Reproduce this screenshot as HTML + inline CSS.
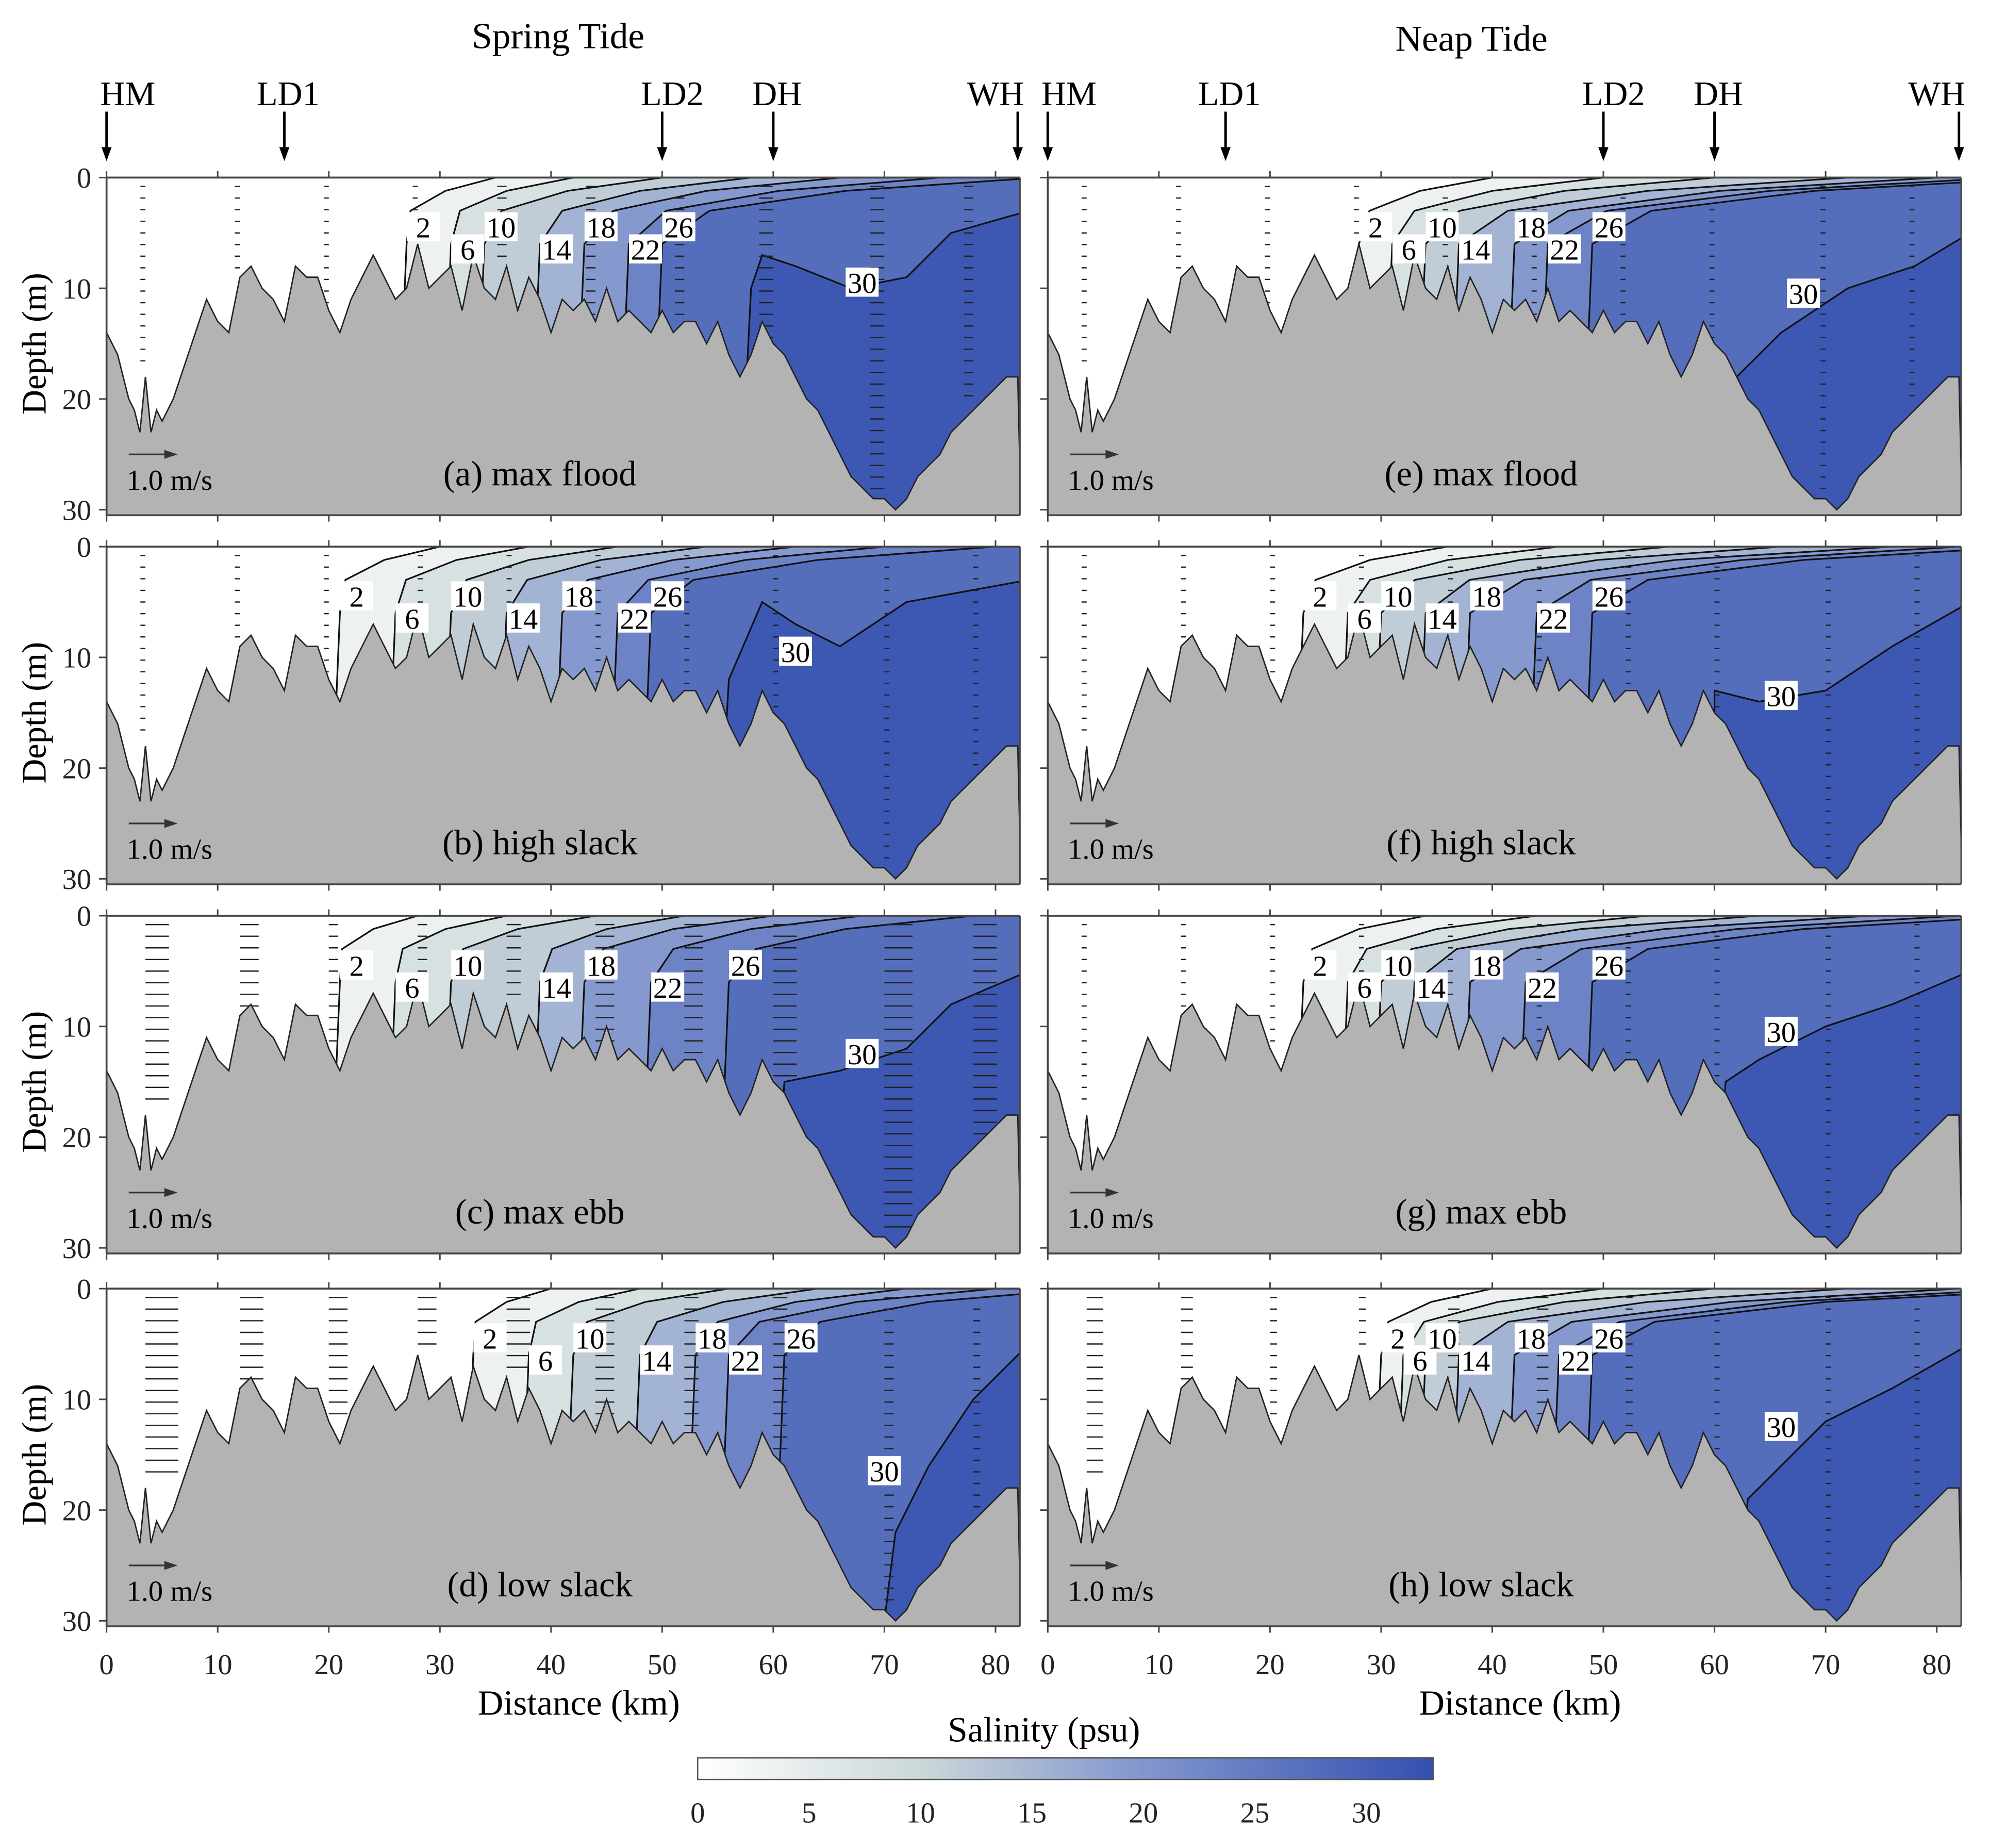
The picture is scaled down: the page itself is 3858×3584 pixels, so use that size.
<!DOCTYPE html>
<html><head><meta charset="utf-8">
<style>
html,body{margin:0;padding:0;background:#fff;}
svg, svg text{font-family:"Liberation Serif","DejaVu Serif",serif;}
</style></head>
<body>
<svg id="fig" width="3858" height="3579" viewBox="0 0 1568 1455" preserveAspectRatio="none" xmlns="http://www.w3.org/2000/svg" font-family="Liberation Serif, DejaVu Serif, serif">
<rect x="0" y="0" width="1568" height="1455" fill="#ffffff"/>
<text x="440" y="38" font-size="29" text-anchor="middle">Spring Tide</text>
<text x="1160" y="40" font-size="29" text-anchor="middle">Neap Tide</text>
<g id="panels"></g>
<g id="stations"></g>
<g id="colorbar"></g>
</svg>
<script>
// ---- data ----
const bathyKm=[0,1,2,2.5,3,3.5,4,4.5,5,6,7,8,9,10,11,12,13,14,15,16,17,18,19,20,21,22,23,24,25,26,27,28,29,30,31,32,33,34,35,36,37,38,39,40,41,42,43,44,45,46,47,48,49,50,51,52,53,54,55,56,57,58,59,60,61,62,63,64,65,66,67,68,69,70,71,72,73,74,75,76,77,78,79,80,81,82];
const bathyDepth=[14,16,20,21,23,18,23,21,22,20,17,14,11,13,14,9,8,10,11,13,8,9,9,12,14,11,9,7,9,11,10,6,10,9,8,12,7,10,11,8,12,9,11,14,11,12,11,13,10,13,12,13,14,12,14,13,13,15,13,16,18,16,13,15,16,18,20,21,23,25,27,28,29,29,30,29,27,26,25,23,22,21,20,19,18,18];
const salinityLevels=[2,6,10,14,18,22,26];
const panelLetters=['a','b','c','d','e','f','g','h'];
const panelTitles=['(a) max flood','(b) high slack','(c) max ebb','(d) low slack','(e) max flood','(f)  high slack','(g) max ebb','(h) low slack'];
const surfX=[
 [35,42,50,58,66,75,84],
 [30,38,46,54,62,70,80],
 [28,36,44,52,60,68,78],
 [40,48,56,64,72,80,88],
 [40,50,60,72,80,86,90],
 [36,46,56,66,76,82,88],
 [34,44,54,64,74,82,88],
 [40,50,60,72,82,88,92]];
const botX=[
 [26,30,33,38,42,46,49],
 [20,25,30,35,40,45,48],
 [20,25,30,38,42,48,55],
 [32,37,41,47,52,55,60],
 [27,30,33,36,41,44,48],
 [22,26,29,33,37,43,48],
 [22,26,29,32,37,42,48],
 [29,31,33,36,41,45,48]];
const iso30=[
 [[83,3],[76,5],[72,9],[67,10],[62,8],[59,7],[58,10],[57,30]],
 [[83,3],[72,5],[66,9],[62,7],[59,5],[56,12],[55,30]],
 [[83,5],[76,8],[72,12],[66,14],[61,15],[60,30]],
 [[83,5],[78,10],[74,16],[71,22],[70,30]],
 [[83,5],[78,8],[72,10],[66,14],[62,18],[61,30]],
 [[83,5],[76,9],[70,13],[64,14],[60,13],[60,30]],
 [[83,5],[76,8],[70,10],[64,13],[61,15],[60,30]],
 [[83,5],[76,9],[70,12],[66,16],[63,19],[62,30]]];
const velStations=[3.5,12,20,28,36,44,52,60,70,78];
const velSpeed=[
 [-0.1,-0.1,-0.1,-0.1,-0.2,-0.2,-0.2,-0.3,-0.3,-0.2],
 [-0.1,-0.05,-0.05,0,0,0,0,0,0,0],
 [0.5,0.4,0.2,0.2,0.3,0.4,0.4,0.5,0.6,0.5],
 [0.7,0.5,0.4,0.4,0.5,0.4,0.3,0.3,0.2,0.15],
 [-0.05,-0.05,-0.05,-0.05,-0.1,-0.1,-0.1,-0.1,-0.1,-0.05],
 [-0.05,0,0,0,0,0,0,0,0,0],
 [-0.05,0,0,0.05,0.05,0.05,0.05,0.05,0.05,0.05],
 [0.35,0.25,0.15,0.15,0.25,0.25,0.15,0.1,0.05,0.05]];
const stationNames=['HM','LD1','LD2','DH','WH'];
const stationKm=[0,16,50,60,82];
const xTicks=[0,10,20,30,40,50,60,70,80];
const yTicks=[0,10,20,30];
const cbTicks=[0,5,10,15,20,25,30];

const NS='http://www.w3.org/2000/svg';
const pxKm=8.76, pxM=8.73;
const colX0=[84,826];
const rowY0=[140,431,722,1016];
function el(t,a,p){const e=document.createElementNS(NS,t);for(const k in a)e.setAttribute(k,a[k]);if(t==='text')e.setAttribute('font-family','Liberation Serif, DejaVu Serif, serif');if(p)p.appendChild(e);return e;}
function lerp(a,b,t){return a+(b-a)*t;}
function salColor(s){
 const st=[[0,[255,255,255]],[10,[203,215,216]],[20,[130,150,206]],[33,[52,80,175]]];
 s=Math.max(0,Math.min(33,s));
 for(let i=0;i<st.length-1;i++){if(s<=st[i+1][0]){const t=(s-st[i][0])/(st[i+1][0]-st[i][0]);const c=st[i][1].map((v,j)=>Math.round(lerp(v,st[i+1][1][j],t)));return `rgb(${c})`;}}
 return 'rgb(52,80,175)';
}
function bedDepth(km){for(let i=0;i<bathyKm.length-1;i++){if(km<=bathyKm[i+1]){const t=(km-bathyKm[i])/(bathyKm[i+1]-bathyKm[i]);return lerp(bathyDepth[i],bathyDepth[i+1],t);}}return bathyDepth[bathyDepth.length-1];}

const panelsG=document.getElementById('panels');
const defs=el('defs',{},document.getElementById('fig'));
for(let p=0;p<8;p++){
 const col=p<4?0:1,row=p%4;
 const X=km=>colX0[col]+km*pxKm, Y=d=>rowY0[row]+d*pxM;
 const g=el('g',{},panelsG);
 
 
 const cid='clip'+p;
 const cp=el('clipPath',{id:cid},defs);
 el('rect',{x:X(0),y:Y(0),width:X(82.2)-X(0),height:Y(30.5)-Y(0)},cp);
 const inner=el('g',{'clip-path':`url(#${cid})`},g);
 el('rect',{x:X(0),y:Y(0),width:X(82.2)-X(0),height:Y(30.5)-Y(0),fill:'#fff'},inner);
 const contours=[];
 salinityLevels.forEach((lv,i)=>{
  const s=surfX[p][i],b=botX[p][i];
  contours.push({lv,i,pts:[[s,0],[b+(s-b)*0.5,1.2],[b+(s-b)*0.15,3],[b+1,6],[b,30]]});
 });
 contours.push({lv:30,pts:iso30[p]});
 contours.forEach(c=>{
  const pts=c.pts.slice();const st=pts[0],en=pts[pts.length-1];
  const poly=pts.concat([[en[0],35],[84,35],[84,st[1]]]);
  const f=el('polygon',{points:poly.map(q=>X(q[0])+','+Y(q[1])).join(' '),fill:salColor(c.lv+1.5)},inner);
  
  
  const l=el('polyline',{points:pts.map(q=>X(q[0])+','+Y(q[1])).join(' '),fill:'none',stroke:'#111',"stroke-width":1.3},inner);
  
  
 });
 velStations.forEach((s,si)=>{
  const v=velSpeed[p][si];const bd=bedDepth(s);
  for(let d=0.8;d<bd-0.5;d+=1.05){
   const len=Math.max(Math.abs(v)*37,4);const x0=X(s),x1=x0+(v>=0?len:-len);
   const m=el('line',{x1:x0,y1:Y(d),x2:x1,y2:Y(d),stroke:'#222','stroke-width':1},inner);
   
   
  }
 });
 const bp=bathyKm.map((k,i)=>X(k)+','+Y(bathyDepth[i])).join(' ');
 const bed=el('polygon',{points:bp+` ${X(82.3)},${Y(31)} ${X(0)},${Y(31)}`,fill:'#b3b3b3',stroke:'#222','stroke-width':1.1},inner);
 
 
 contours.forEach(c=>{
  let lx,ly;
  if(c.lv===30){const q=c.pts[2];lx=q[0]-4;ly=q[1]+0.5;}else{lx=c.pts[3][0]+1.5;ly=4.5+(c.i%2)*2;}
  const t=el('g',{},g);
  
  
  el('rect',{x:X(lx)-13,y:Y(ly)-12,width:26,height:23,fill:'#fff'},t);
  const tx=el('text',{x:X(lx),y:Y(ly)+8,'font-size':23,'text-anchor':'middle'},t);tx.textContent=c.lv;
 });
 el('line',{x1:X(0),y1:Y(0),x2:X(82.2),y2:Y(0),stroke:'#444','stroke-width':1.5},g);
 el('line',{x1:X(0),y1:Y(30.5),x2:X(82.2),y2:Y(30.5),stroke:'#444','stroke-width':1.5},g);
 el('line',{x1:X(0),y1:Y(0),x2:X(0),y2:Y(30.5),stroke:'#444','stroke-width':1.5},g);
 el('line',{x1:X(82.2),y1:Y(0),x2:X(82.2),y2:Y(30.5),stroke:'#444','stroke-width':1.2},g);
 xTicks.forEach(k=>{el('line',{x1:X(k),y1:Y(0),x2:X(k),y2:Y(0)-5,stroke:'#444','stroke-width':1.2},g);el('line',{x1:X(k),y1:Y(30.5),x2:X(k),y2:Y(30.5)+5,stroke:'#444','stroke-width':1.2},g);});
 yTicks.forEach(d=>{el('line',{x1:X(0)-6,y1:Y(d),x2:X(0),y2:Y(d),stroke:'#444','stroke-width':1.2},g);
  if(col===0){const t=el('text',{x:X(0)-12,y:Y(d)+8,'font-size':23,'text-anchor':'end',fill:'#222'},g);t.textContent=d;}});
 if(col===0){const yt=el('text',{x:36,y:Y(15),'font-size':27,'text-anchor':'middle',transform:`rotate(-90 36 ${Y(15)})`},g);yt.textContent='Depth (m)';}
 const ttl=el('text',{x:X(39),y:Y(27.8),'font-size':28,'text-anchor':'middle'},g);ttl.textContent=panelTitles[p];
 
 el('line',{x1:X(2),y1:Y(25),x2:X(6),y2:Y(25),stroke:'#333','stroke-width':1.3},g);
 el('polygon',{points:`${X(6.4)},${Y(25)} ${X(5.2)},${Y(24.6)} ${X(5.2)},${Y(25.4)}`,fill:'#333'},g);
 const sl=el('text',{x:X(1.8),y:Y(28.2),'font-size':23},g);sl.textContent='1.0 m/s';
 
 if(row===3){
  xTicks.forEach(k=>{const t=el('text',{x:X(k),y:1320,'font-size':23,'text-anchor':'middle',fill:'#222'},g);t.textContent=k;});
  const xt=el('text',{x:X(42.5),y:1352,'font-size':28,'text-anchor':'middle'},g);xt.textContent='Distance (km)';
  
 }
}
const stG=document.getElementById('stations');
[0,1].forEach(col=>{
 stationKm.forEach((k,i)=>{
  const x=colX0[col]+k*pxKm;
  const g=el('g',{},stG);
  
  
  const anchor=i===0?'start':(i===4?'end':'middle');
  const tx=i===0?x-5:(i===4?x+5:x+(i===2?8:3));
  const t=el('text',{x:tx,y:83,'font-size':27,'text-anchor':anchor},g);t.textContent=stationNames[i];
  el('line',{x1:x,y1:88,x2:x,y2:118,stroke:'#000','stroke-width':2},g);
  el('polygon',{points:`${x},127 ${x-4},116 ${x+4},116`,fill:'#000'},g);
 });
});
const cb=document.getElementById('colorbar');
const cbX=v=>550+v*17.57;
const lg=el('linearGradient',{id:'cbg',x1:0,x2:1,y1:0,y2:0},defs);
[0,5,10,15,20,25,30,33].forEach(v=>el('stop',{offset:v/33,'stop-color':salColor(v)},lg));
el('rect',{x:cbX(0),y:1386,width:cbX(33)-cbX(0),height:17,fill:'url(#cbg)',stroke:'#555','stroke-width':1},cb);
cbTicks.forEach(v=>{const t=el('text',{x:cbX(v),y:1437,'font-size':23,'text-anchor':'middle',fill:'#222'},cb);t.textContent=v;});
const ct=el('text',{x:823,y:1373,'font-size':28,'text-anchor':'middle'},cb);ct.textContent='Salinity (psu)';

</script>
</body></html>
